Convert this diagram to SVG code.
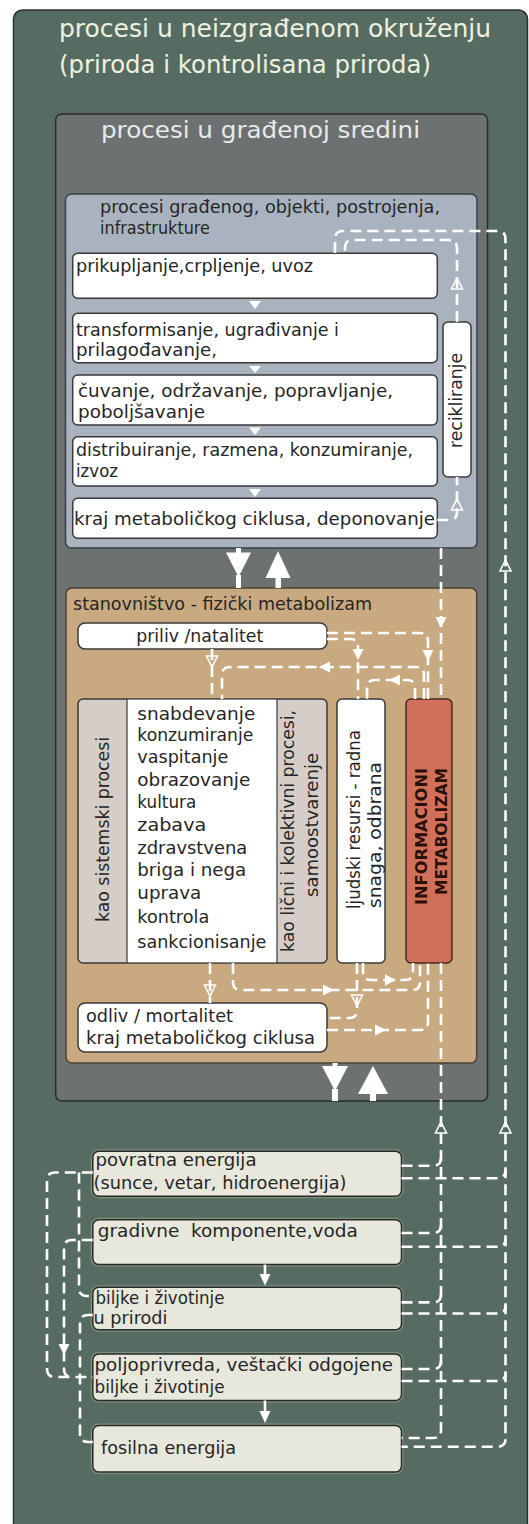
<svg xmlns="http://www.w3.org/2000/svg" xmlns:xlink="http://www.w3.org/1999/xlink" width="529" height="1524" viewBox="0 0 529 1524">
<style>
.t{font-family:"DejaVu Sans","Liberation Sans",sans-serif;fill:#262626;font-size:17px}
.tl{fill:#eef1df;font-size:24.5px}
.tg{fill:#e9e9e9;font-size:23.5px}
.tb{font-weight:bold;fill:#2a0f08;font-size:16px}
.dl{fill:none;stroke:#fff;stroke-width:2.6;stroke-dasharray:11 6}
.sl{fill:none;stroke:#fff;stroke-width:2.6}
.sa{fill:#fff}
.oa{fill:none;stroke:#fff;stroke-width:1.6}
.wb{fill:#fff;stroke:#3a3a3a;stroke-width:1.5}
.nb{fill:#e7e7dc;stroke:#2a2a2a;stroke-width:1.5}
.gl{fill:none;stroke:#a9bb98;stroke-width:4;opacity:.45}
.mc{font-size:18px}
</style>
<defs>
<path id="tri" d="M-5.5,-5 H5.5 L0,6 Z"/>
</defs>
<rect width="529" height="1524" fill="#fff"/>
<g id="outer">
<rect x="13.5" y="10" width="514" height="1530" rx="9" fill="#566c62" stroke="#26302b" stroke-width="1.5"/>
<text class="t tl" x="59" y="37" textLength="432" lengthAdjust="spacingAndGlyphs">procesi u neizgrađenom okruženju</text>
<text class="t tl" x="59" y="72.5" textLength="372" lengthAdjust="spacingAndGlyphs">(priroda i kontrolisana priroda)</text>
</g>
<g id="built">
<rect x="55.7" y="114" width="431.8" height="987" rx="6" fill="#6c7171" stroke="#2b2b2b" stroke-width="1.5"/>
<text class="t tg" x="101" y="138" textLength="319" lengthAdjust="spacingAndGlyphs">procesi u građenoj sredini</text>
</g>
<g id="objects">
<rect x="65.5" y="194" width="411.5" height="354" rx="6" fill="#a8b3bf" stroke="#3a3f45" stroke-width="1.5"/>
<text class="t" x="100" y="213" textLength="340" lengthAdjust="spacingAndGlyphs">procesi građenog, objekti, postrojenja,</text>
<text class="t" x="100" y="234" textLength="110" lengthAdjust="spacingAndGlyphs">infrastrukture</text>
</g>
<g id="box1"><rect class="wb" x="72.7" y="253.3" width="364.6" height="45" rx="5"/>
<text class="t" x="76" y="272" textLength="237" lengthAdjust="spacingAndGlyphs">prikupljanje,crpljenje, uvoz</text></g>
<g id="box2"><rect class="wb" x="72.7" y="313.3" width="364.6" height="49.4" rx="5"/>
<text class="t" x="76" y="336" textLength="263" lengthAdjust="spacingAndGlyphs">transformisanje, ugrađivanje i</text>
<text class="t" x="76" y="356" textLength="141" lengthAdjust="spacingAndGlyphs">prilagođavanje,</text></g>
<g id="box3"><rect class="wb" x="72.7" y="375" width="364.6" height="50" rx="5"/>
<text class="t" x="78" y="397" textLength="315" lengthAdjust="spacingAndGlyphs">čuvanje, održavanje, popravljanje,</text>
<text class="t" x="78" y="418" textLength="127" lengthAdjust="spacingAndGlyphs">poboljšavanje</text></g>
<g id="box4"><rect class="wb" x="72.7" y="436.7" width="364.6" height="49.3" rx="5"/>
<text class="t" x="76" y="456" textLength="337" lengthAdjust="spacingAndGlyphs">distribuiranje, razmena, konzumiranje,</text>
<text class="t" x="76" y="477" textLength="42" lengthAdjust="spacingAndGlyphs">izvoz</text></g>
<g id="box5"><rect class="wb" x="72.7" y="498.3" width="364.6" height="40" rx="5"/>
<text class="t" x="74" y="525" textLength="361" lengthAdjust="spacingAndGlyphs">kraj metaboličkog ciklusa, deponovanje</text></g>
<g id="recycling"><rect class="wb" x="443" y="322" width="28" height="155" rx="5"/>
<text class="t" transform="translate(462,400.5) rotate(-90)" text-anchor="middle" textLength="95" lengthAdjust="spacingAndGlyphs">recikliranje</text></g>
<g id="population">
<rect x="66" y="588" width="410.7" height="475" rx="6" fill="#c9a97f" stroke="#4a4038" stroke-width="1.5"/>
<text class="t" x="73" y="610" textLength="299" lengthAdjust="spacingAndGlyphs">stanovništvo - fizički metabolizam</text>
</g>
<g id="priliv"><rect class="wb" x="78" y="623" width="249" height="26" rx="7"/>
<text class="t" x="199.7" y="642" text-anchor="middle" textLength="127" lengthAdjust="spacingAndGlyphs">priliv /natalitet</text></g>
<g id="processes">
<rect x="78" y="699" width="249" height="264" rx="5" fill="#d6cec6" stroke="#3a3a3a" stroke-width="1.5"/>
<rect x="127" y="699.75" width="150" height="262.5" fill="#fff"/>
<line x1="127" y1="699" x2="127" y2="963" stroke="#3a3a3a" stroke-width="1.2"/>
<line x1="277" y1="699" x2="277" y2="963" stroke="#3a3a3a" stroke-width="1.2"/>
<text class="t" transform="translate(109,829.5) rotate(-90)" text-anchor="middle" textLength="185" lengthAdjust="spacingAndGlyphs">kao sistemski procesi</text>
<text class="t" transform="translate(294,831) rotate(-90)" text-anchor="middle" textLength="242" lengthAdjust="spacingAndGlyphs">kao lični i kolektivni procesi,</text>
<text class="t" transform="translate(318,825) rotate(-90)" text-anchor="middle" textLength="144" lengthAdjust="spacingAndGlyphs">samoostvarenje</text>
<text class="t mc" x="137.3" y="720" textLength="118" lengthAdjust="spacingAndGlyphs">snabdevanje</text>
<text class="t mc" x="137.3" y="741" textLength="116" lengthAdjust="spacingAndGlyphs">konzumiranje</text>
<text class="t mc" x="137.3" y="763" textLength="91" lengthAdjust="spacingAndGlyphs">vaspitanje</text>
<text class="t mc" x="137.3" y="786" textLength="113" lengthAdjust="spacingAndGlyphs">obrazovanje</text>
<text class="t mc" x="137.3" y="808" textLength="59" lengthAdjust="spacingAndGlyphs">kultura</text>
<text class="t mc" x="137.3" y="831" textLength="69" lengthAdjust="spacingAndGlyphs">zabava</text>
<text class="t mc" x="137.3" y="853.5" textLength="110" lengthAdjust="spacingAndGlyphs">zdravstvena</text>
<text class="t mc" x="137.3" y="876" textLength="109" lengthAdjust="spacingAndGlyphs">briga i nega</text>
<text class="t mc" x="137.3" y="899" textLength="64" lengthAdjust="spacingAndGlyphs">uprava</text>
<text class="t mc" x="137.3" y="922.5" textLength="72" lengthAdjust="spacingAndGlyphs">kontrola</text>
<text class="t mc" x="137.3" y="948" textLength="129" lengthAdjust="spacingAndGlyphs">sankcionisanje</text>
</g>
<g id="resources"><rect class="wb" x="337" y="699" width="48" height="264" rx="5"/>
<text class="t" transform="translate(360,909) rotate(-90)" textLength="179" lengthAdjust="spacingAndGlyphs">ljudski resursi - radna</text>
<text class="t" transform="translate(381,908) rotate(-90)" textLength="146" lengthAdjust="spacingAndGlyphs">snaga, odbrana</text></g>
<g id="info"><rect x="406" y="699" width="46" height="264" rx="5" fill="#d26f58" stroke="#4a2a22" stroke-width="1.5"/>
<text class="t tb" transform="translate(426.5,836.5) rotate(-90)" text-anchor="middle" textLength="137" lengthAdjust="spacingAndGlyphs">INFORMACIONI</text>
<text class="t tb" transform="translate(447,831.5) rotate(-90)" text-anchor="middle" textLength="127" lengthAdjust="spacingAndGlyphs">METABOLIZAM</text></g>
<g id="odliv"><rect class="wb" x="78" y="1003" width="249" height="49" rx="7"/>
<text class="t" x="86" y="1022" textLength="147" lengthAdjust="spacingAndGlyphs">odliv / mortalitet</text>
<text class="t" x="86" y="1044" textLength="229" lengthAdjust="spacingAndGlyphs">kraj metaboličkog ciklusa</text></g>
<g id="energyReturn"><rect class="gl" x="92.8" y="1151.3" width="308.7" height="44.9" rx="6"/><rect class="nb" x="92.8" y="1151.3" width="308.7" height="44.9" rx="6"/>
<text class="t" x="95.5" y="1166" textLength="161" lengthAdjust="spacingAndGlyphs">povratna energija</text>
<text class="t" x="93.5" y="1188.5" textLength="253" lengthAdjust="spacingAndGlyphs">(sunce, vetar, hidroenergija)</text></g>
<g id="materials"><rect class="gl" x="92.8" y="1219.8" width="308.7" height="44.8" rx="6"/><rect class="nb" x="92.8" y="1219.8" width="308.7" height="44.8" rx="6"/>
<text class="t" x="97.8" y="1236.6" style="white-space:pre" textLength="260" lengthAdjust="spacingAndGlyphs">gradivne  komponente,voda</text></g>
<g id="wild"><rect class="gl" x="92.8" y="1287.2" width="308.7" height="42.5" rx="6"/><rect class="nb" x="92.8" y="1287.2" width="308.7" height="42.5" rx="6"/>
<text class="t" x="95.5" y="1304" textLength="129" lengthAdjust="spacingAndGlyphs">biljke i životinje</text>
<text class="t" x="93.5" y="1323.6" textLength="74" lengthAdjust="spacingAndGlyphs">u prirodi</text></g>
<g id="agri"><rect class="gl" x="92.8" y="1354" width="308.7" height="46.5" rx="6"/><rect class="nb" x="92.8" y="1354" width="308.7" height="46.5" rx="6"/>
<text class="t" x="94.5" y="1370.8" textLength="298.5" lengthAdjust="spacingAndGlyphs">poljoprivreda, veštački odgojene</text>
<text class="t" x="94.5" y="1392.8" textLength="130" lengthAdjust="spacingAndGlyphs">biljke i životinje</text></g>
<g id="fossil"><rect class="gl" x="92.8" y="1425.5" width="308.7" height="46.5" rx="6"/><rect class="nb" x="92.8" y="1425.5" width="308.7" height="46.5" rx="6"/>
<text class="t" x="101" y="1453.5" textLength="135" lengthAdjust="spacingAndGlyphs">fosilna energija</text></g>
<g id="connectors">
<path class="sa" d="M236 548 H241 V552.5 H251 L238.5 577 L226 552.5 H236 Z M236 575 H241 V588 H236 Z"/>
<path class="sa" d="M278 551 L290.5 578 H281 V588 H275.5 V578 H265.5 Z"/>
<path class="sa" d="M332.5 1063 H337.5 V1066 H348 L335 1091 L322 1066 H332.5 Z M332 1089 H338 V1101 H332 Z"/>
<path class="sa" d="M373 1066 L388 1094 H376 V1101 H370 V1094 H358 Z"/>
<path class="sa" d="M249 301 H261 L255 309 Z M249 366 H261 L255 373 Z M249 427.5 H261 L255 435 Z M249 489 H261 L255 497 Z"/>
<path class="dl" d="M335 253 V239 Q335 231 343 231 H497.5 Q505.5 231 505.5 239 V1438.8 Q505.5 1446.8 497.5 1446.8 H401.5"/>
<path class="dl" d="M457 322 V248 Q457 240 449 240 H353 Q345 240 345 248 V253"/>
<path class="dl" d="M437.3 520 H449 Q457 520 457 512 V477"/>
<use href="#tri" class="oa" transform="translate(457,284) rotate(180)"/>
<use href="#tri" class="oa" transform="translate(457,505) rotate(180)"/>
<use href="#tri" class="oa" transform="translate(505.5,566) rotate(180)"/>
<use href="#tri" class="oa" transform="translate(505.5,1128) rotate(180)"/>
<path class="dl" d="M441 548 V699"/>
<use href="#tri" class="sa" transform="translate(441,622)"/>
<path class="dl" d="M441 963 V1430 Q441 1438 433 1438 H401.5"/>
<use href="#tri" class="oa" transform="translate(441,1128) rotate(180)"/>
<path class="dl" d="M401.5 1165.8 H433 Q441 1165.8 441 1157.8 M401.5 1233 H433 Q441 1233 441 1225 M401.5 1302.4 H433 Q441 1302.4 441 1294.4 M401.5 1369 H433 Q441 1369 441 1361"/>
<path class="dl" d="M401.5 1178.3 H497.5 Q505.5 1178.3 505.5 1170.3 M401.5 1246.8 H497.5 Q505.5 1246.8 505.5 1238.8 M401.5 1313.5 H497.5 Q505.5 1313.5 505.5 1305.5 M401.5 1381 H497.5 Q505.5 1381 505.5 1373"/>
<path class="dl" d="M327 633 H420 Q428 633 428 641 V699"/>
<use href="#tri" class="sa" transform="translate(428,655)"/>
<path class="dl" d="M327 639 H350 Q358 639 358 647 V699"/>
<use href="#tri" class="sa" transform="translate(358,654)"/>
<path class="dl" d="M424 699 V675 Q424 667 416 667 H230 Q222 667 222 675 V699"/>
<use href="#tri" class="sa" transform="translate(325,667) rotate(90)"/>
<path class="dl" d="M415 699 V688 Q415 680 407 680 H375 Q367 680 367 688 V699"/>
<use href="#tri" class="sa" transform="translate(395,680) rotate(90)"/>
<path class="dl" d="M212 649 V699"/>
<use href="#tri" class="oa" transform="translate(212,661)"/>
<path class="dl" d="M210 963 V1003"/>
<use href="#tri" class="oa" transform="translate(210,990)"/>
<path class="dl" d="M233 963 V982 Q233 990 241 990 H412 Q420 990 420 982 V963"/>
<use href="#tri" class="sa" transform="translate(328,990) rotate(-90)"/>
<path class="dl" d="M363 963 V972 Q363 980 371 980 H405 Q413 980 413 972 V963"/>
<use href="#tri" class="sa" transform="translate(390,980) rotate(-90)"/>
<path class="dl" d="M357 963 V1010 Q357 1018 349 1018 H327"/>
<use href="#tri" class="oa" transform="translate(357,1000)"/>
<path class="dl" d="M327 1030 H420 Q428 1030 428 1022 V963"/>
<use href="#tri" class="sa" transform="translate(380,1030) rotate(-90)"/>
<path class="sl" d="M265 1264.6 V1276"/>
<path class="sa" d="M259.5 1274 H270.5 L265 1285.5 Z"/>
<path class="sl" d="M265 1400.5 V1412"/>
<path class="sa" d="M259.5 1411 H270.5 L265 1423 Z"/>
<path class="dl" d="M92.8 1172.5 H55 Q47 1172.5 47 1180.5 V1369 Q47 1377 55 1377 H92.8"/>
<path class="dl" d="M79 1172.5 V1288 Q79 1296 87 1296 H92.8"/>
<path class="dl" d="M92.8 1240 H72 Q64 1240 64 1248 V1369 Q64 1377 72 1377"/>
<use href="#tri" class="sa" transform="translate(64,1349)"/>
<path class="dl" d="M92.8 1315 H88 Q80 1315 80 1323 V1434 Q80 1442 88 1442 H92.8"/>
</g>
</svg>
